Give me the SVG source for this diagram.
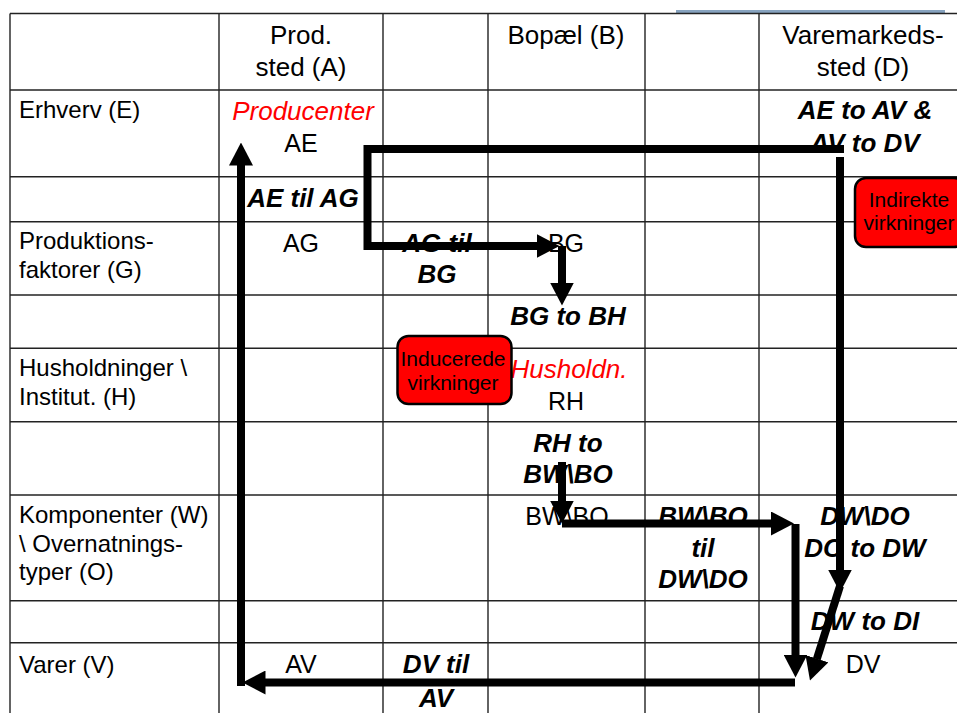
<svg xmlns="http://www.w3.org/2000/svg" width="957" height="713" viewBox="0 0 957 713">
<style>
text{font-family:"Liberation Sans",Arial,sans-serif;fill:#000}
.hd{font-size:26px;text-anchor:middle}
.rl{font-size:24px}
.cv{font-size:25px;text-anchor:middle}
.bi{font-size:26px;font-weight:bold;font-style:italic;text-anchor:middle}
.ri{font-size:26px;font-style:italic;text-anchor:middle;fill:#ff0000}
.bx{font-size:21px;text-anchor:middle}
.grid line{stroke:#222;stroke-width:1.4}
.box{fill:#ff0000;stroke:#000;stroke-width:2.5}
.conn path{fill:none;stroke:#000;stroke-width:8;stroke-linejoin:miter}
</style>
<defs>
<marker id="ah" markerUnits="userSpaceOnUse" markerWidth="23" markerHeight="24" viewBox="0 0 23 24" refX="0.5" refY="12" orient="auto">
<path d="M0,0 L23,12 L0,24 z" fill="#000"/>
</marker>
</defs>
<rect width="957" height="713" fill="#fff"/>
<line x1="676" y1="11.5" x2="945" y2="11.5" stroke="#87a3bf" stroke-width="3"/>
<g class="grid">
<line x1="10" y1="13.5" x2="957" y2="13.5"/>
<line x1="10" y1="90" x2="957" y2="90"/>
<line x1="10" y1="176.7" x2="957" y2="176.7"/>
<line x1="10" y1="221.7" x2="957" y2="221.7"/>
<line x1="10" y1="295" x2="957" y2="295"/>
<line x1="10" y1="348.3" x2="957" y2="348.3"/>
<line x1="10" y1="421.7" x2="957" y2="421.7"/>
<line x1="10" y1="495" x2="957" y2="495"/>
<line x1="10" y1="600.7" x2="957" y2="600.7"/>
<line x1="10" y1="642.7" x2="957" y2="642.7"/>
<line x1="10" y1="13.5" x2="10" y2="713"/>
<line x1="219" y1="13.5" x2="219" y2="713"/>
<line x1="383" y1="13.5" x2="383" y2="713"/>
<line x1="488" y1="13.5" x2="488" y2="713"/>
<line x1="645" y1="13.5" x2="645" y2="713"/>
<line x1="759" y1="13.5" x2="759" y2="713"/>
</g>
<g id="headers">
<text class="hd" x="301" y="44">Prod.</text>
<text class="hd" x="301" y="76">sted (A)</text>
<text class="hd" x="566" y="44">Bopæl (B)</text>
<text class="hd" x="863" y="44">Varemarkeds-</text>
<text class="hd" x="863" y="76">sted (D)</text>
</g>
<g id="row-labels">
<text class="rl" x="19" y="118">Erhverv (E)</text>
<text class="rl" x="19" y="249">Produktions-</text>
<text class="rl" x="19" y="278">faktorer (G)</text>
<text class="rl" x="19" y="376">Husholdninger \</text>
<text class="rl" x="19" y="405">Institut. (H)</text>
<text class="rl" x="19" y="523">Komponenter (W)</text>
<text class="rl" x="19" y="552">\ Overnatnings-</text>
<text class="rl" x="19" y="580">typer (O)</text>
<text class="rl" x="19" y="673">Varer (V)</text>
</g>
<g id="node-AE"><text class="ri" x="303" y="120">Producenter</text><text class="cv" x="301" y="152">AE</text></g>
<g id="label-AE-AV"><text class="bi" x="865" y="119">AE to AV &amp;</text><text class="bi" x="865" y="152">AV to DV</text></g>
<g id="label-AE-AG"><text class="bi" x="303" y="207">AE til AG</text></g>
<g id="node-AG"><text class="cv" x="301" y="252">AG</text></g>
<g id="label-AG-BG"><text class="bi" x="437" y="252">AG til</text><text class="bi" x="437" y="283">BG</text></g>
<g id="node-BG"><text class="cv" x="566" y="252">BG</text></g>
<g id="label-BG-BH"><text class="bi" x="568" y="325">BG to BH</text></g>
<g id="node-RH"><text class="ri" x="569" y="378">Husholdn.</text><text class="cv" x="566" y="410">RH</text></g>
<g id="label-RH-BW"><text class="bi" x="568" y="452">RH to</text><text class="bi" x="568" y="483">BW\BO</text></g>
<g id="node-BW"><text class="cv" x="567" y="525">BW\BO</text></g>
<g id="label-BW-DW"><text class="bi" x="703" y="525">BW\BO</text><text class="bi" x="703" y="557">til</text><text class="bi" x="703" y="588">DW\DO</text></g>
<g id="node-DW"><text class="bi" x="865" y="525">DW\DO</text><text class="bi" x="865" y="557">DO to DW</text></g>
<g id="label-DW-DI"><text class="bi" x="865" y="630">DW to DI</text></g>
<g id="node-AV"><text class="cv" x="301" y="673">AV</text></g>
<g id="label-DV-AV"><text class="bi" x="436" y="673">DV til</text><text class="bi" x="436" y="707">AV</text></g>
<g id="node-DV"><text class="cv" x="863" y="673">DV</text></g>
<g id="box-inducerede">
<rect class="box" x="397.5" y="336" width="114" height="68" rx="11"/>
<text class="bx" x="453" y="366">Inducerede</text>
<text class="bx" x="453" y="390">virkninger</text>
</g>
<g id="box-indirekte">
<rect class="box" x="855" y="178" width="110" height="69" rx="11"/>
<text class="bx" x="909" y="207">Indirekte</text>
<text class="bx" x="909" y="230">virkninger</text>
</g>
<g id="connectors" class="conn">
<path d="M241,686 V165" marker-end="url(#ah)"/>
<path d="M795,682.5 H265" marker-end="url(#ah)"/>
<path d="M844,149 H367.5 V246 H537" marker-end="url(#ah)"/>
<path d="M562,246 V283" marker-end="url(#ah)"/>
<path d="M840,157 V570" marker-end="url(#ah)"/>
<path d="M562,462 V501" marker-end="url(#ah)"/>
<path d="M562,523.5 H771.5" marker-end="url(#ah)"/>
<path d="M795.5,524 V655" marker-end="url(#ah)"/>
<path d="M840,586 L816.8,659.1" marker-end="url(#ah)"/>
</g>
</svg>
